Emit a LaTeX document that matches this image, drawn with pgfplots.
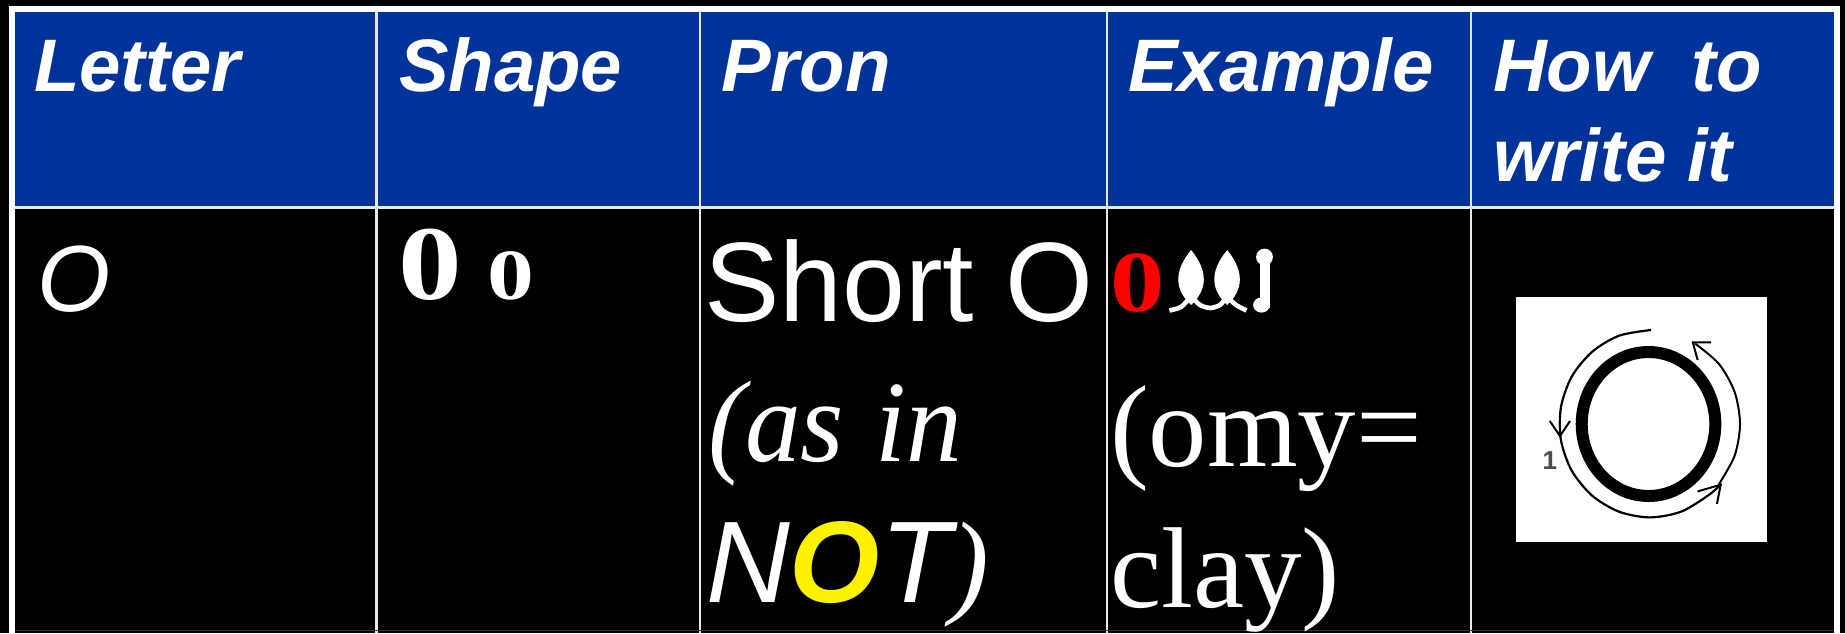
\documentclass[border=0pt]{standalone}
\usepackage{fontspec}
\setmainfont{Liberation Sans}
\newfontfamily\serif{Liberation Serif}
\usepackage{pgfplots}
\pgfplotsset{compat=1.18}
\definecolor{hblue}{HTML}{003399}
\definecolor{lineg}{HTML}{E8E8E8}
\newcommand{\fs}[1]{\fontsize{#1}{#1}\selectfont}
\tikzset{txt/.style={text=white, anchor=base west, inner sep=0pt, outer sep=0pt}}
\begin{document}
\begin{tikzpicture}
\begin{axis}[
  scale only axis, width=922.5pt, height=316.5pt,
  xmin=0, xmax=1845, ymin=0, ymax=633, y dir=reverse,
  hide axis, clip=true,
  every axis plot/.append style={forget plot}
]
% background
\addplot[fill=black, draw=none] coordinates {(0,0) (1845,0) (1845,633) (0,633)} -- cycle;
% white frame
\addplot[fill=white, draw=none] coordinates {(9,6) (1839.5,6) (1839.5,633) (9,633)} -- cycle;
% header
\addplot[fill=hblue, draw=none] coordinates {(15,12) (1833.5,12) (1833.5,207) (15,207)} -- cycle;
% body
\addplot[fill=black, draw=none] coordinates {(15,207) (1833.5,207) (1833.5,633) (15,633)} -- cycle;
% grid lines
\addplot[draw=lineg, line width=1.2pt] coordinates {(15,207.5) (1833.5,207.5)};
\addplot[draw=lineg, line width=1.1pt] coordinates {(376.5,12) (376.5,633)};
\addplot[draw=lineg, line width=1.1pt] coordinates {(700,12) (700,633)};
\addplot[draw=lineg, line width=1.1pt] coordinates {(1107,12) (1107,633)};
\addplot[draw=lineg, line width=1.1pt] coordinates {(1471,12) (1471,633)};
\addplot[draw=black!80, line width=0.5pt] coordinates {(15,630.5) (1833.5,630.5)};

% header text
\node[txt] at (axis cs:34,91) {\fs{37.2}\bfseries\itshape Letter};
\node[txt] at (axis cs:399,91) {\fs{37.2}\bfseries\itshape Shape};
\node[txt] at (axis cs:721,91) {\fs{37.2}\bfseries\itshape Pron};
\node[txt] at (axis cs:1128,91) {\fs{37.2}\bfseries\itshape Example};
\node[txt] at (axis cs:1493,91) {\fs{37.2}\bfseries\itshape How\ \ to};
\node[txt] at (axis cs:1493,181) {\fs{37.2}\bfseries\itshape write it};

% first column
\node[txt] at (axis cs:37,311) {\fs{47}\itshape O};
% shape
\node[txt] at (axis cs:398,299) {\serif\bfseries\scalebox{1.2}[1]{\fs{53}0}};
\node[txt] at (axis cs:487,299) {\serif\bfseries\scalebox{1.3}[1]{\fs{36}0}};
% pron
\node[txt] at (axis cs:704,321.5) {\fs{56.5}Short O};
\node[txt] at (axis cs:708,461.7) {\scalebox{0.96}[1]{\serif\itshape\fs{58}(as\ \kern2pt in}};
\node[txt] at (axis cs:706,602.7) {\fs{58}\itshape N\textcolor{yellow}{\bfseries O}T{\serif )}};
% example
\node[txt, text=red] at (axis cs:1110.5,311) {\serif\bfseries\scalebox{1.25}[1]{\fs{43.5}0}};
\fill[white] (axis cs:1191.1,250) .. controls (axis cs:1173,272) and (axis cs:1175,290) .. (axis cs:1191.1,305)
   .. controls (axis cs:1207,290) and (axis cs:1209,272) .. (axis cs:1191.1,250);
\fill[white] (axis cs:1227.2,250) .. controls (axis cs:1209,272) and (axis cs:1211,290) .. (axis cs:1227.2,305)
   .. controls (axis cs:1243,290) and (axis cs:1245,272) .. (axis cs:1227.2,250);
\addplot[white, line width=2.3pt, smooth] coordinates {(1169.4,310.5) (1181,307) (1191,298) (1200,305) (1210,308) (1220,305) (1227,298) (1236,305) (1246.5,310.5)};
\addplot[fill=white, draw=none] coordinates {(1259.5,258) (1270,258) (1270,308) (1259.5,308)} -- cycle;
\fill[white] (axis cs:1264.5,257) ellipse [x radius=4.2pt, y radius=4.2pt];
\fill[white] (axis cs:1261.5,305) ellipse [x radius=4.2pt, y radius=3.8pt];
\node[txt] at (axis cs:1110,466) {\serif\fs{58.3}(omy=};
\node[txt] at (axis cs:1110,607) {\serif\fs{57.5}clay)};

% stroke picture
\addplot[fill=white, draw=none] coordinates {(1516,296.5) (1767,296.5) (1767,542) (1516,542)} -- cycle;
\fill[black, even odd rule] (axis cs:1648.5,424) ellipse [x radius=36.4pt, y radius=39pt]
     (axis cs:1648.5,424) ellipse [x radius=30.4pt, y radius=33pt];
\addplot[black, line width=1.1pt, smooth] coordinates {(1651,330) (1619,335.7) (1592,351.9) (1571.6,376.8) (1560.9,407.4) (1560.9,440) (1571.6,470.5) (1592,495.5) (1619,511.7) (1650,517.4) (1681,511.7) (1708,495.5) (1720.7,484.7)};
\addplot[black, line width=1pt] coordinates {(1549.8,421) (1559.9,436) (1570,421)};
\addplot[black, line width=1pt] coordinates {(1697.6,491.4) (1720.7,484.7) (1716.9,504)};
\addplot[black, line width=1pt, smooth] coordinates {(1719,484) (1734.6,455.8) (1740,424) (1734.6,392) (1719,364) (1695,343.5)};
\addplot[black, line width=1pt] coordinates {(1711,342.3) (1692.8,342.3) (1697.6,360)};
\node[text=black!70, inner sep=0pt, anchor=center] at (axis cs:1549.8,460.5) {\fs{13}\bfseries 1};
\end{axis}
\end{tikzpicture}
\end{document}
